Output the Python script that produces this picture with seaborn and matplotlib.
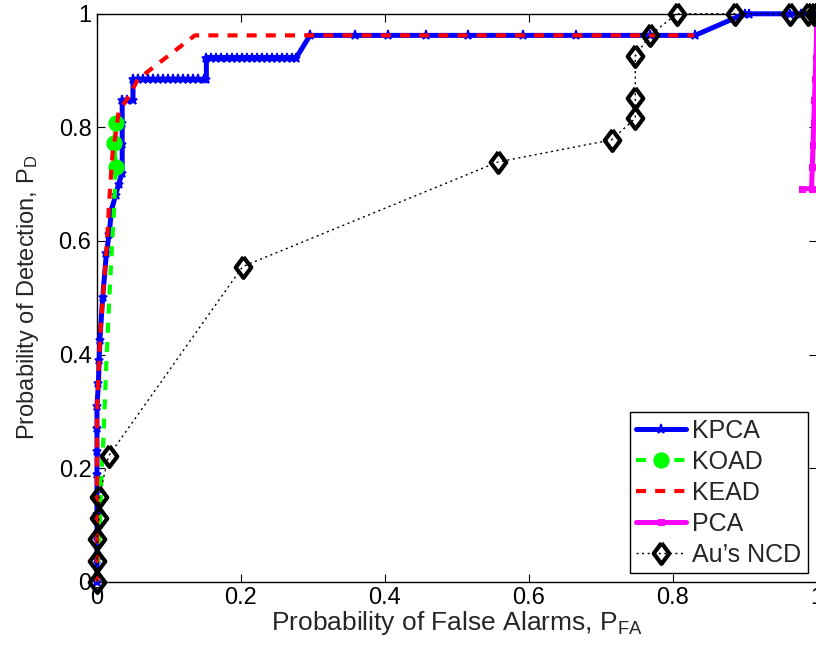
import numpy as np
import pandas as pd
import matplotlib
matplotlib.use('Agg')
import matplotlib.pyplot as plt
import seaborn as sns

# ROC curves
kpca_x = [0, 0, 0, 0, 0, 0, 0, 0, 0, 0.002, 0.003, 0.004, 0.008, 0.013, 0.017, 0.020,
          0.026, 0.030, 0.035, 0.035, 0.035, 0.035, 0.042, 0.050,
          0.050, 0.057, 0.064, 0.071, 0.078, 0.085, 0.092, 0.099, 0.106, 0.113, 0.120,
          0.127, 0.134, 0.141, 0.148, 0.152,
          0.152, 0.159, 0.166, 0.173, 0.180, 0.187, 0.194, 0.201, 0.208, 0.215, 0.222,
          0.229, 0.236, 0.243, 0.250, 0.257, 0.264, 0.271, 0.277,
          0.296, 0.359, 0.405, 0.457, 0.516, 0.592, 0.666, 0.769, 0.831,
          0.900, 0.906, 0.963, 0.979, 1.0]
kpca_y = [0, 0.04, 0.08, 0.12, 0.15, 0.19, 0.23, 0.27, 0.31, 0.35, 0.39, 0.426, 0.502, 0.578, 0.613, 0.654,
          0.681, 0.70, 0.72, 0.77, 0.808, 0.848, 0.848, 0.848,
          0.885, 0.885, 0.885, 0.885, 0.885, 0.885, 0.885, 0.885, 0.885, 0.885, 0.885,
          0.885, 0.885, 0.885, 0.885, 0.885,
          0.923, 0.923, 0.923, 0.923, 0.923, 0.923, 0.923, 0.923, 0.923, 0.923, 0.923,
          0.923, 0.923, 0.923, 0.923, 0.923, 0.923, 0.923, 0.923,
          0.962, 0.962, 0.962, 0.962, 0.962, 0.962, 0.962, 0.962, 0.962,
          1.0, 1.0, 1.0, 1.0, 1.0]

koad_x = [0, 0.004, 0.0065, 0.009, 0.013, 0.017, 0.021, 0.024, 0.025, 0.026, 0.024, 0.026]
koad_y = [0, 0.10, 0.194, 0.255, 0.385, 0.496, 0.596, 0.663, 0.695, 0.731, 0.772, 0.808]

kead_x = [0, 0, 0.004, 0.008, 0.013, 0.018, 0.022, 0.027, 0.030, 0.044, 0.057, 0.136, 0.830]
kead_y = [0, 0.30, 0.426, 0.50, 0.58, 0.69, 0.76, 0.795, 0.828, 0.854, 0.885, 0.962, 0.962]

pca_x = [0.980, 0.993, 0.994, 0.995, 0.996, 0.997, 0.998, 0.999, 1.0, 1.0]
pca_y = [0.692, 0.692, 0.731, 0.769, 0.808, 0.848, 0.885, 0.923, 0.962, 1.0]

ncd_x = [0, 0, 0, 0.003, 0.003, 0.016, 0.2025, 0.557, 0.715, 0.748, 0.748, 0.748,
         0.769, 0.806, 0.887, 0.963, 0.988, 0.996, 1.0]
ncd_y = [0, 0.037, 0.075, 0.112, 0.149, 0.221, 0.555, 0.739, 0.778, 0.816, 0.851, 0.926,
         0.963, 1.0, 1.0, 1.0, 1.0, 1.0, 1.0]

ticks = [0, 0.2, 0.4, 0.6, 0.8, 1]
tick_labels = ['0', '0.2', '0.4', '0.6', '0.8', '1']

sns.set_style("ticks")
plt.rcParams['font.family'] = ['Liberation Sans', 'DejaVu Sans']
plt.rcParams['mathtext.fontset'] = 'custom'
plt.rcParams['mathtext.rm'] = 'Liberation Sans'
plt.rcParams['mathtext.it'] = 'Liberation Sans'

# matlab-ish diamond, a bit taller than wide
diamond = [(0, 1), (0.75, 0), (0, -1), (-0.75, 0), (0, 1)]

fig = plt.figure(figsize=(8.16, 6.51), dpi=100)
ax = fig.add_axes([97 / 816, 69.3 / 651, 719.6 / 816, 567.9 / 651])

sns.lineplot(x=kpca_x, y=kpca_y, sort=False, estimator=None, ax=ax, color='#0000ff', lw=3.6,
             marker='*', ms=6.5, mew=1.2, mec='#0000ff', label='KPCA', clip_on=False, zorder=3)
sns.lineplot(x=koad_x, y=koad_y, sort=False, estimator=None, ax=ax, color='#00ff00', lw=3,
             linestyle=(0, (2.4, 2.2)), marker='o', ms=11, markevery=[9, 10, 11],
             mec='#00ff00', label='KOAD', clip_on=False, zorder=4)
sns.lineplot(x=kead_x, y=kead_y, sort=False, estimator=None, ax=ax, color='#ff0000', lw=3,
             linestyle=(0, (2.4, 2.2)), label='KEAD', clip_on=False, zorder=5)
sns.lineplot(x=pca_x, y=pca_y, sort=False, estimator=None, ax=ax, color='#ff00ff', lw=3.6,
             marker='s', ms=4, mec='#ff00ff', label='PCA', clip_on=False, zorder=6)
sns.lineplot(x=ncd_x, y=ncd_y, sort=False, estimator=None, ax=ax, color='black', lw=1,
             linestyle=(0, (1.5, 2.5)), marker=diamond, ms=15, mew=3, mfc='none', mec='black',
             label="Au\u2019s NCD", clip_on=False, zorder=7)

ax.set_xlim(0, 1)
ax.set_ylim(0, 1)
ax.set_xticks(ticks)
ax.set_xticklabels(tick_labels)
ax.set_yticks(ticks)
ax.set_yticklabels(tick_labels)
ax.tick_params(direction='in', length=6, width=0.8, labelsize=17, pad=4,
               top=True, right=True, colors='black')
for s in ax.spines.values():
    s.set_linewidth(1)
    s.set_color('black')
    s.set_visible(True)

ax.set_xlabel('Probability of False Alarms, P$_{\\mathrm{FA}}$', fontsize=19, labelpad=0)
ax.set_ylabel('Probability of Detection, P$_{\\mathrm{D}}$', fontsize=17, labelpad=13)

leg = ax.legend(loc='lower right', fontsize=18, frameon=True, fancybox=False,
                handlelength=2.0, handletextpad=0.25, labelspacing=0.28,
                borderpad=0.25, borderaxespad=0.35)
leg.get_frame().set_edgecolor('black')
leg.get_frame().set_linewidth(1)
leg.get_frame().set_alpha(1)

fig.savefig('out.png', dpi=100)
